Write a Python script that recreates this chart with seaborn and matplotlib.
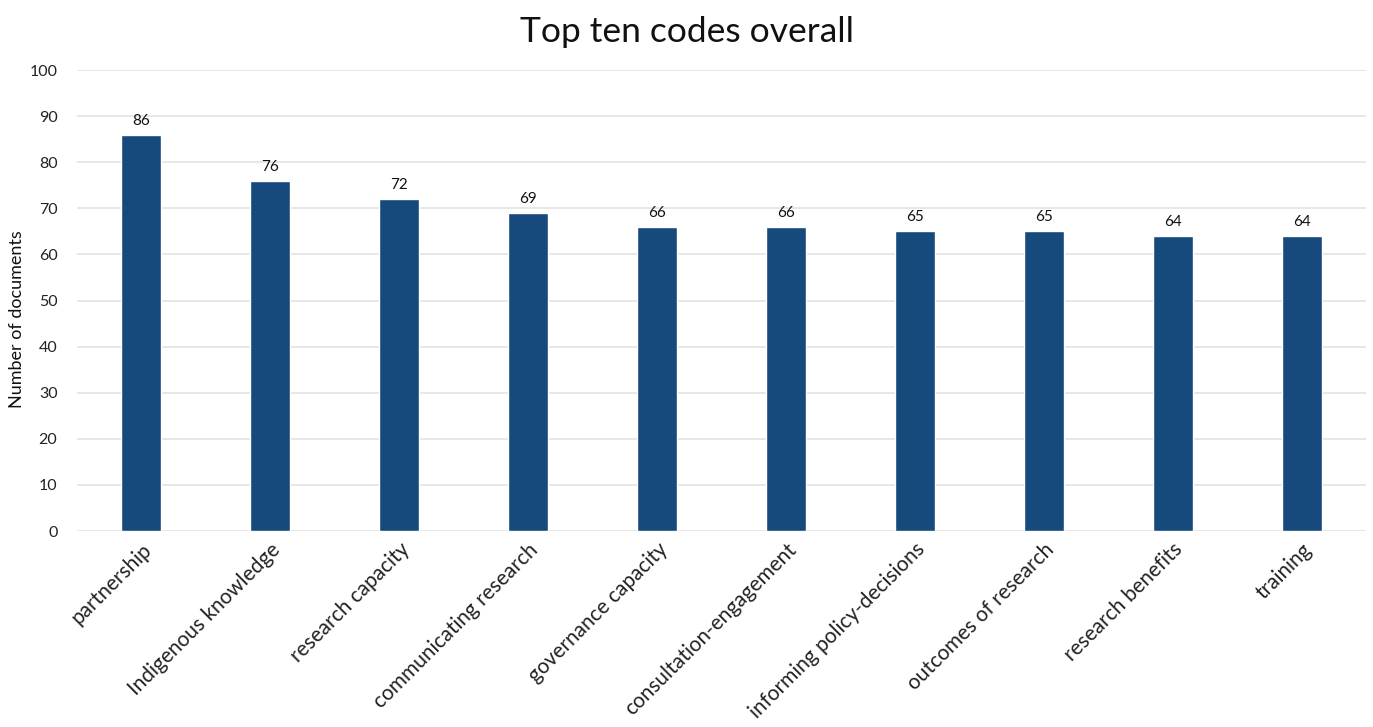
import matplotlib
matplotlib.use("Agg")
import matplotlib.pyplot as plt
import seaborn as sns
import pandas as pd

codes = ["partnership", "Indigenous knowledge", "research capacity",
         "communicating research", "governance capacity", "consultation-engagement",
         "informing policy-decisions", "outcomes of research", "research benefits",
         "training"]
documents = [86, 76, 72, 69, 66, 66, 65, 65, 64, 64]
y_ticks = [0, 10, 20, 30, 40, 50, 60, 70, 80, 90, 100]

sns.set_theme(style="white")
plt.rcParams["font.family"] = ["Lato", "DejaVu Sans"]

df = pd.DataFrame({"code": codes, "documents": documents})

fig = plt.figure(figsize=(13.73, 7.27), dpi=100)
ax = fig.add_axes([0.056, 0.2696, 0.939, 0.6341])

sns.barplot(data=df, x="code", y="documents", color="#174A7C", width=0.31,
            saturation=1, ax=ax, zorder=3)

ax.set_ylim(0, 100)
ax.set_xlim(-0.5, len(codes) - 0.5)
ax.set_yticks(y_ticks)
ax.yaxis.grid(True, color="#e3e3e3", linewidth=1.2, zorder=0)
ax.set_axisbelow(True)
for s in ax.spines.values():
    s.set_visible(False)

ax.tick_params(axis="y", labelsize=11.5, length=0, pad=14, colors="#222222")
ax.tick_params(axis="x", labelsize=15, length=0, pad=6, colors="#222222")
plt.setp(ax.get_xticklabels(), rotation=45, ha="right", rotation_mode="anchor")

ax.set_xlabel("")
ax.set_ylabel("Number of documents", fontsize=13, color="#111111")
ax.yaxis.set_label_coords(-0.040, 0.46)

for container in ax.containers:
    ax.bar_label(container, labels=[str(v) for v in documents], padding=5,
                 fontsize=11, color="#111111")

fig.suptitle("Top ten codes overall", fontsize=25.5, y=0.978, color="#111111")

fig.savefig("out.png", dpi=100)
